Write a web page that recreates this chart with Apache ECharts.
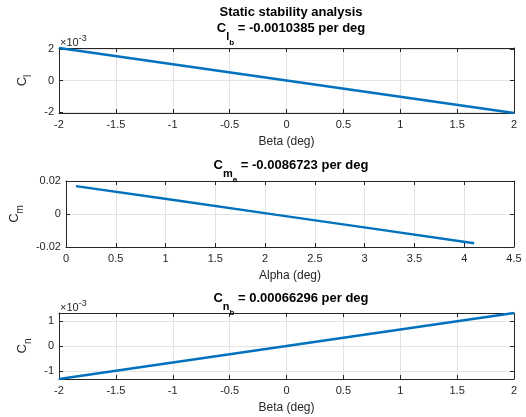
<!DOCTYPE html>
<html>
<head>
<meta charset="utf-8">
<script src="https://cdn.jsdelivr.net/npm/echarts@6/dist/echarts.min.js"></script>
<style>
  html, body { margin: 0; padding: 0; background: #fff; }
  #main { width: 526px; height: 417px; }
</style>
</head>
<body>
<div id="main"></div>
<script>
// 数据
const beta = [-2, -1, 0, 1, 2]
const clValues = [0.002077, 0.0010385, 0, -0.0010385, -0.002077]
const alpha = [0.1, 1.1, 2.1, 3.1, 4.1]
const cmValues = [0.0169, 0.0083, -0.0004, -0.0090, -0.0177]
const cnValues = [-0.0013259, -0.00066296, 0, 0.00066296, 0.0013259]
const clTicks = [-0.002, 0, 0.002]
const cnTicks = [-0.001, 0, 0.001]

const FONT = 'Liberation Sans'
const AXIS_COLOR = '#262626'
const GRID_COLOR = '#e3e3e3'
const LINE_COLOR = '#0072BD'

const richSub = {
  c: { fontSize: 13, fontWeight: 'bold', fontFamily: FONT, color: '#000', verticalAlign: 'top' },
  s: { fontSize: 11, fontWeight: 'bold', fontFamily: FONT, color: '#000', verticalAlign: 'top', padding: [9, 0, 0, 0] },
  ss: { fontSize: 8, fontWeight: 'bold', fontFamily: FONT, color: '#000', verticalAlign: 'top', padding: [17, 0, 0, 0] }
}
const richName = {
  c: { fontSize: 13, fontFamily: FONT, color: AXIS_COLOR, verticalAlign: 'top' },
  s: { fontSize: 10, fontFamily: FONT, color: AXIS_COLOR, verticalAlign: 'top', padding: [7, 0, 0, 0] }
}
const richExp = {
  a: { fontSize: 11, fontFamily: FONT, fill: AXIS_COLOR, verticalAlign: 'top', padding: [3, 0, 0, 0] },
  b: { fontSize: 9, fontFamily: FONT, fill: AXIS_COLOR, verticalAlign: 'top' }
}

const grids = [
  { left: 59, top: 48, width: 455, height: 65 },
  { left: 59, top: 181, width: 455, height: 66 },
  { left: 59, top: 313, width: 455, height: 66 }
]

function bottomX(gi, min, max, name) {
  return {
    type: 'value', gridIndex: gi, min: min, max: max, interval: 0.5,
    name: name, nameLocation: 'middle', nameGap: 23,
    nameTextStyle: { fontSize: 12, fontFamily: FONT, color: AXIS_COLOR },
    axisLine: { show: true, onZero: false, lineStyle: { color: AXIS_COLOR } },
    axisTick: { show: true, inside: true, length: 4, lineStyle: { color: AXIS_COLOR } },
    axisLabel: { fontSize: 11, fontFamily: FONT, color: AXIS_COLOR, margin: 6 },
    splitLine: { show: true, lineStyle: { color: GRID_COLOR } }
  }
}
function topX(gi, min, max) {
  return {
    type: 'value', gridIndex: gi, position: 'top', min: min, max: max, interval: 0.5,
    axisLine: { show: true, onZero: false, lineStyle: { color: AXIS_COLOR } },
    axisTick: { show: true, inside: true, length: 4, lineStyle: { color: AXIS_COLOR } },
    axisLabel: { show: false },
    splitLine: { show: false }
  }
}
function leftY(gi, min, max, ticks, fmt, nameText, gap) {
  const y = {
    type: 'value', gridIndex: gi, min: min, max: max,
    name: nameText, nameLocation: 'middle', nameRotate: 90, nameGap: gap,
    nameTextStyle: { rich: richName },
    axisLine: { show: true, onZero: false, lineStyle: { color: AXIS_COLOR } },
    axisTick: { show: true, inside: true, length: 4, lineStyle: { color: AXIS_COLOR } },
    axisLabel: { fontSize: 11, fontFamily: FONT, color: AXIS_COLOR, margin: 5, showMinLabel: true, showMaxLabel: true },
    splitLine: { show: true, lineStyle: { color: GRID_COLOR } }
  }
  if (ticks) {
    y.axisTick.customValues = ticks
    y.axisLabel.customValues = ticks
  } else {
    y.interval = 0.02
  }
  if (fmt) y.axisLabel.formatter = fmt
  return y
}
function rightY(gi, min, max, ticks) {
  const y = {
    type: 'value', gridIndex: gi, position: 'right', min: min, max: max,
    axisLine: { show: true, onZero: false, lineStyle: { color: AXIS_COLOR } },
    axisTick: { show: true, inside: true, length: 4, lineStyle: { color: AXIS_COLOR } },
    axisLabel: { show: false },
    splitLine: { show: false }
  }
  if (ticks) y.axisTick.customValues = ticks
  else y.interval = 0.02
  return y
}

const milli = v => String(Math.round(v * 1000))

const chart = echarts.init(document.getElementById('main'))
chart.setOption({
  animation: false,
  backgroundColor: '#fff',
  title: [
    { text: 'Static stability analysis', left: 286, top: 1, textAlign: 'center',
      textStyle: { fontSize: 13, fontWeight: 'bold', fontFamily: FONT, color: '#000' } },
    { text: '{c|C}{s|l}{ss|b}{c| = -0.0010385 per deg}', left: 286, top: 17, textAlign: 'center',
      textStyle: { rich: richSub } },
    { text: '{c|C}{s|m}{ss|a}{c| = -0.0086723 per deg}', left: 286, top: 154, textAlign: 'center',
      textStyle: { rich: richSub } },
    { text: '{c|C}{s|n}{ss|b}{c| = 0.00066296 per deg}', left: 286, top: 287, textAlign: 'center',
      textStyle: { rich: richSub } }
  ],
  graphic: [
    { type: 'text', left: 60, top: 34, style: { text: '{a|×10}{b|-3}', rich: richExp } },
    { type: 'text', left: 60, top: 299, style: { text: '{a|×10}{b|-3}', rich: richExp } }
  ],
  grid: grids,
  xAxis: [
    bottomX(0, -2, 2, 'Beta (deg)'), topX(0, -2, 2),
    bottomX(1, 0, 4.5, 'Alpha (deg)'), topX(1, 0, 4.5),
    bottomX(2, -2, 2, 'Beta (deg)'), topX(2, -2, 2)
  ],
  yAxis: [
    leftY(0, -0.002077, 0.002077, clTicks, milli, '{c|C}{s|l}', 18), rightY(0, -0.002077, 0.002077, clTicks),
    leftY(1, -0.02, 0.02, null, null, '{c|C}{s|m}', 34), rightY(1, -0.02, 0.02, null),
    leftY(2, -0.0013259, 0.0013259, cnTicks, milli, '{c|C}{s|n}', 18), rightY(2, -0.0013259, 0.0013259, cnTicks)
  ],
  series: [
    { type: 'line', xAxisIndex: 0, yAxisIndex: 0, showSymbol: false,
      data: beta.map((b, i) => [b, clValues[i]]),
      lineStyle: { color: LINE_COLOR, width: 2.4 } },
    { type: 'line', xAxisIndex: 2, yAxisIndex: 2, showSymbol: false,
      data: alpha.map((a, i) => [a, cmValues[i]]),
      lineStyle: { color: LINE_COLOR, width: 2.4 } },
    { type: 'line', xAxisIndex: 4, yAxisIndex: 4, showSymbol: false,
      data: beta.map((b, i) => [b, cnValues[i]]),
      lineStyle: { color: LINE_COLOR, width: 2.4 } }
  ]
})
</script>
</body>
</html>
